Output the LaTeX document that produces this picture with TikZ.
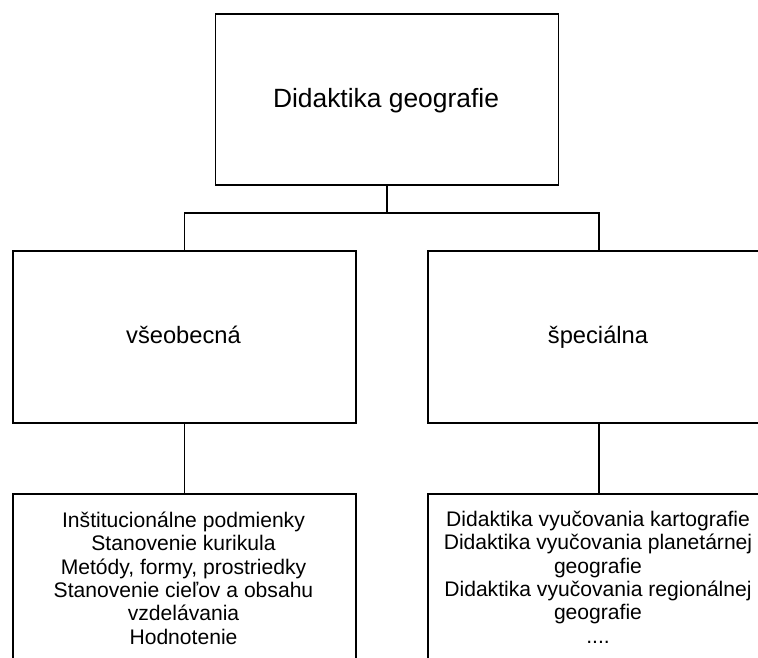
\documentclass[tikz,border=0pt]{standalone}
\usepackage{fontspec}
\setmainfont{Liberation Sans}
\begin{document}
\begin{tikzpicture}[x=1pt,y=-1pt,
  box/.style={draw=black, line width=1.8pt, rectangle, inner sep=0pt, anchor=north west},
  wire/.style={draw=black, line width=1.8pt},
  titletext/.style={anchor=base, inner sep=0pt, font=\fontsize{26.4}{30}\selectfont},
  headtext/.style={anchor=base, inner sep=0pt, font=\fontsize{23.7}{27}\selectfont},
  listtext/.style={anchor=base, inner sep=0pt, align=center, font=\fontsize{21.1}{23.33}\selectfont}]
  \clip (0,0) rectangle (758,657);
  % boxes (the right column and the lower row run past the frame)
  \node[box, minimum width=343pt, minimum height=171pt] (top) at (214.5,13) {};
  \node[box, minimum width=343pt, minimum height=172pt] (gen) at (12,250) {};
  \node[box, minimum width=342pt, minimum height=172pt] (spec) at (427,250) {};
  \node[box, minimum width=343pt, minimum height=220pt] (genlist) at (12,493) {};
  \node[box, minimum width=342pt, minimum height=220pt] (speclist) at (427,493) {};
  % texts; a multi-line node sits on the baseline of its last line
  \node[titletext] (ttop) at (386,107.7) {Didaktika geografie};
  \node[headtext] (tgen) at (183.5,343.3) {všeobecná};
  \node[headtext] (tspec) at (598,343.3) {špeciálna};
  \node[listtext] (tgenlist) at (183.5,644.3) {Inštitucionálne podmienky\\Stanovenie kurikula\\Metódy, formy, prostriedky\\Stanovenie cieľov a obsahu\\vzdelávania\\Hodnotenie};
  \node[listtext] (tspeclist) at (598,643.3) {Didaktika vyučovania kartografie\\Didaktika vyučovania planetárnej\\geografie\\Didaktika vyučovania regionálnej\\geografie\\....};
  % connectors
  \coordinate (split) at (top.south |- 0,213);
  \draw[wire] (top.south) -- (split);
  \draw[wire] (gen.north) |- (split) -| (spec.north);
  \draw[wire] (gen.south) -- (gen.south |- genlist.north);
  \draw[wire] (spec.south) -- (spec.south |- speclist.north);
\end{tikzpicture}
\end{document}
